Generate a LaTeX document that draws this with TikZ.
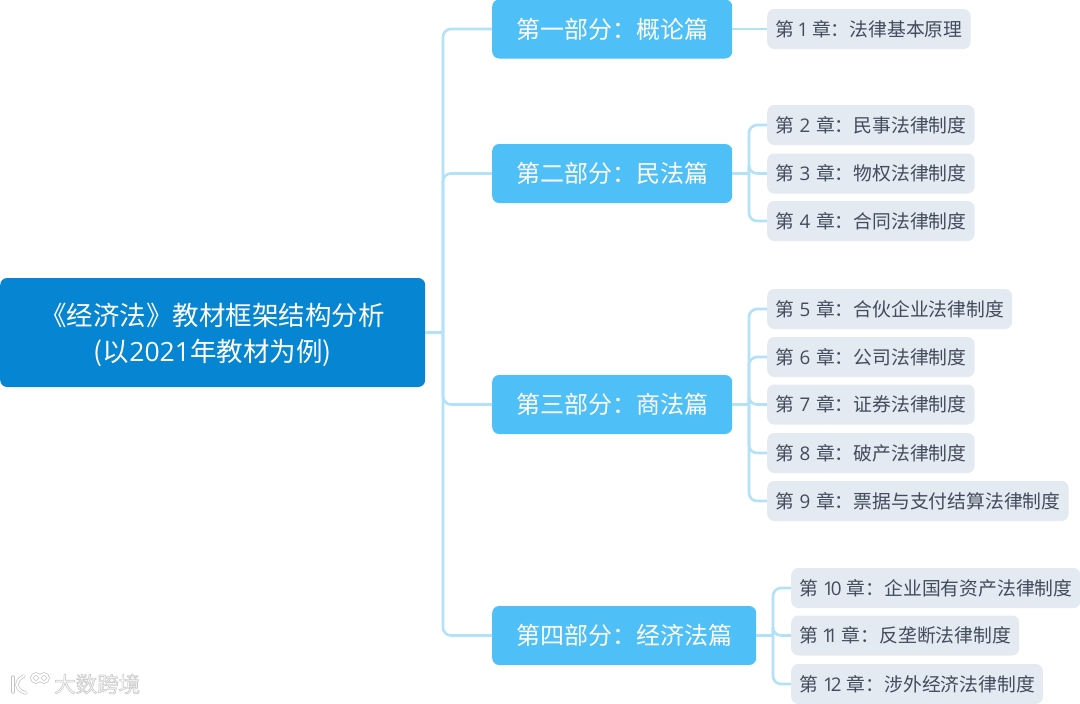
\documentclass[tikz,border=0pt]{standalone}
\usepackage{fontspec}
\setmainfont{Noto Sans CJK SC}
\newfontfamily\latn{Open Sans}
\definecolor{rootblue}{HTML}{0585D2}
\definecolor{partblue}{HTML}{4FBFF8}
\definecolor{chapgrey}{HTML}{E4EAF1}
\definecolor{chapink}{HTML}{414C5C}
\definecolor{linkblue}{HTML}{B3E2F8}
\newcommand{\fcolon}{\char"FF1A\relax}
\newcommand{\chap}[2]{第 \hspace{1.5pt}{\latn #1}\hspace{1.5pt} 章\fcolon #2}
\newcommand{\halotext}[1]{\color{white}\special{pdf:code q 2 Tr 0.7 w 0.8 G 1 g}#1\special{pdf:code Q}}
\tikzset{
    elbow/.style={to path={|- (\tikztotarget)}},
    logohalo/.style={draw=black!24, line width=3.4pt, line cap=round},
    logofill/.style={draw=white, line width=2pt, line cap=round},
}
\begin{document}
\begin{tikzpicture}[x=1pt, y=-1pt]
        \useasboundingbox (0,0) rectangle (1080,704);
        \begin{scope}[every node/.style={anchor=west, rounded corners=7pt, inner xsep=0pt, inner ysep=0pt}]
            \node[fill=rootblue, text=white, minimum width=425pt, minimum height=109pt, align=center, font=\fontsize{26.5}{36}\selectfont] (root) at (0,332.5) {\rule{0pt}{27pt}《经济法》教材框架结构分析\\({}以{\latn 2021}年教材为例)};
        \end{scope}
        \begin{scope}[every node/.style={anchor=west, rounded corners=7pt, fill=partblue, text=white, inner xsep=0pt, inner ysep=0pt, minimum height=59pt, font=\fontsize{24}{28}\selectfont}]
            \node[minimum width=240pt] (part1) at (492,29) {第一部分\fcolon 概论篇};
            \node[minimum width=240pt] (part2) at (492,173.5) {第二部分\fcolon 民法篇};
            \node[minimum width=240pt] (part3) at (492,404.5) {第三部分\fcolon 商法篇};
            \node[minimum width=264pt] (part4) at (492,635.5) {第四部分\fcolon 经济法篇};
        \end{scope}
        \begin{scope}[every node/.style={anchor=west, rounded corners=7pt, fill=chapgrey, text=chapink, inner xsep=8pt, inner ysep=0pt, minimum height=40pt, font=\fontsize{18.8}{22}\selectfont}]
            \node (c1) at (767,29) {\chap{\hspace{-2pt}1\hspace{-2pt}}{法律基本原理}};
            \node (c2) at (767,125) {\chap{2}{民事法律制度}};
            \node (c3) at (767,173.5) {\chap{3}{物权法律制度}};
            \node (c4) at (767,221) {\chap{4}{合同法律制度}};
            \node (c5) at (767,309) {\chap{5}{合伙企业法律制度}};
            \node (c6) at (767,357) {\chap{6}{公司法律制度}};
            \node (c7) at (767,404.5) {\chap{7}{证券法律制度}};
            \node (c8) at (767,453) {\chap{8}{破产法律制度}};
            \node (c9) at (767,501) {\chap{9}{票据与支付结算法律制度}};
            \node (c10) at (791,588) {\chap{\hspace{-.5pt}1\kern-3pt 0\hspace{-.5pt}}{企业国有资产法律制度}};
            \node (c11) at (791,635.5) {\chap{\hspace{-1.5pt}1\kern-6pt 1\hspace{-1.5pt}}{反垄断法律制度}};
            \node (c12) at (791,684) {\chap{\hspace{-.5pt}1\kern-3pt 2\hspace{-.5pt}}{涉外经济法律制度}};
        \end{scope}
        \coordinate (hub0) at (443,332.5);
        \coordinate (hub2) at (749,173.5);
        \coordinate (hub3) at (749,404.5);
        \coordinate (hub4) at (773,635.5);
        \begin{scope}[every edge/.style={draw=linkblue, line width=2.6pt, rounded corners=8pt}]
            \draw (root.east) edge (hub0);
            \foreach \target in {part1,part2,part3,part4}
                \draw (hub0) edge[elbow] (\target.west);
            \draw (part1.east) edge (c1.west);
            \draw (part2.east) edge (hub2);
            \foreach \target in {c2,c3,c4}
                \draw (hub2) edge[elbow] (\target.west);
            \draw (part3.east) edge (hub3);
            \foreach \target in {c5,c6,c7,c8,c9}
                \draw (hub3) edge[elbow] (\target.west);
            \draw (part4.east) edge (hub4);
            \foreach \target in {c10,c11,c12}
                \draw (hub4) edge[elbow] (\target.west);
        \end{scope}
        % watermark
        \node[anchor=west, inner sep=0pt, font=\fontsize{21.5}{24}\selectfont] (mark) at (54,684) {\halotext{大数跨境}};
        \foreach \pen in {logohalo,logofill} {
            \draw[\pen] (13,677) -- (13,692);
            \draw[\pen] (24,676) .. controls (15,680) and (14,690) .. (26,693);
            \draw[\pen] (36,678) circle (4pt);
            \draw[\pen] (44,678) circle (4pt);
        }
\end{tikzpicture}
\end{document}
